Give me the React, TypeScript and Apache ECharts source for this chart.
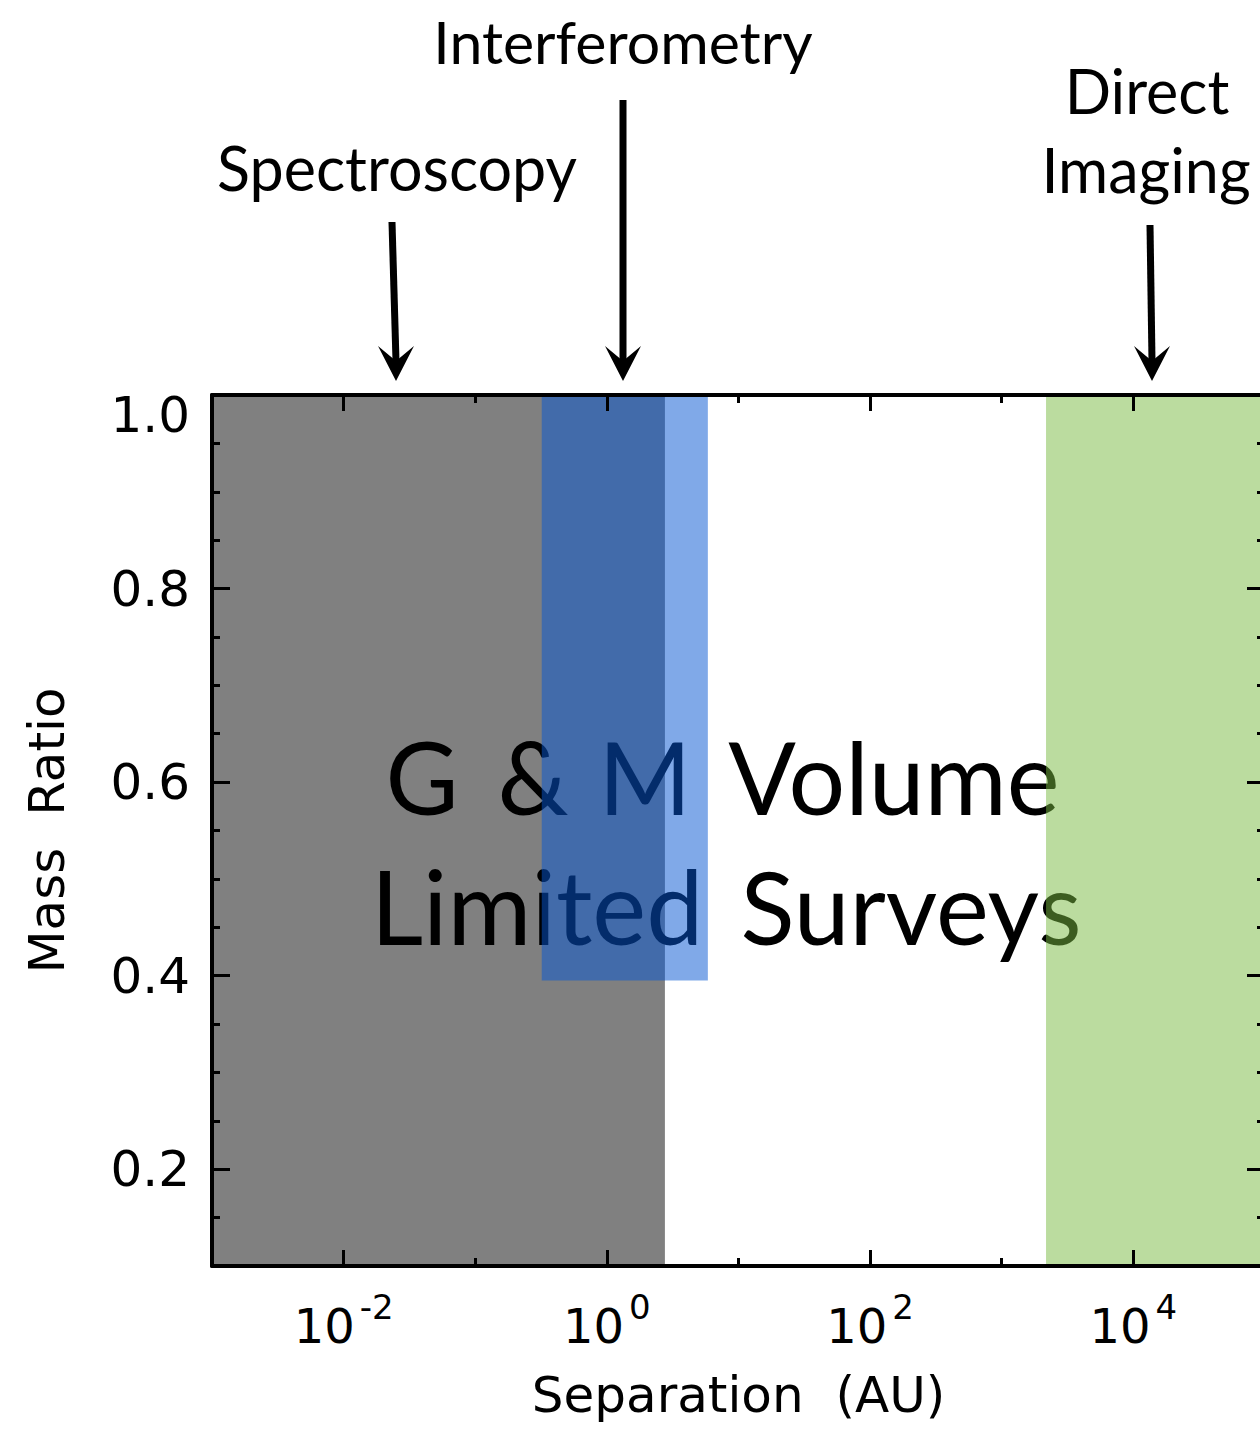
import React, { useEffect, useRef } from "react";
import * as echarts from "echarts";

// ---- data ----
const xRange = [0.001, 100000]; // Separation (AU)
const yRange = [0.1, 1.0]; // Mass ratio
const xMajorTicks = [0.01, 1, 100, 10000];
const xMinorTicks = [0.1, 10, 1000];
const yMajorTicks = [0.2, 0.4, 0.6, 0.8, 1.0];
const yMinorTicks = [0.15, 0.25, 0.3, 0.35, 0.45, 0.5, 0.55, 0.65, 0.7, 0.75, 0.85, 0.9, 0.95];

// [sepMin, sepMax, qMin, qMax]
const spectroscopyRegion = [[0.001, 2.76, 0.1, 1.0]];
const interferometryRegion = [[0.32, 5.85, 0.395, 1.0]];
const imagingRegion = [[2170, 100000, 0.1, 1.0]];

const AXIS_FONT = "DejaVu Sans";
const LABEL_FONT = "Lato";

function rectRenderer(color: string) {
  return (params: any, api: any) => {
    const p0 = api.coord([api.value(0), api.value(3)]);
    const p1 = api.coord([api.value(1), api.value(2)]);
    return {
      type: "rect",
      shape: { x: p0[0], y: p0[1], width: p1[0] - p0[0], height: p1[1] - p0[1] },
      style: { fill: color },
    };
  };
}

function textEl(text: string, x: number, baseline: number, size: number, z = 30) {
  return {
    type: "text",
    x,
    y: baseline - size * 0.37,
    z,
    style: {
      text,
      fill: "#000",
      fontSize: size,
      fontFamily: LABEL_FONT,
      align: "center",
      verticalAlign: "middle",
    },
  };
}

function arrow(x1: number, y1: number, x2: number, y2: number) {
  return [
    {
      type: "line",
      z: 30,
      shape: { x1, y1, x2: x2, y2: y2 - 20 },
      style: { stroke: "#000", lineWidth: 7 },
    },
    {
      type: "polygon",
      z: 30,
      shape: {
        points: [
          [x2, y2],
          [x2 - 18, y2 - 35],
          [x2, y2 - 20],
          [x2 + 18, y2 - 35],
        ],
      },
      style: { fill: "#000" },
    },
  ];
}

export default function App() {
  const ref = useRef<HTMLDivElement>(null);
  useEffect(() => {
    if (!ref.current) return;
    const chart = echarts.init(ref.current, undefined, { renderer: "svg" });
    const lineStyle = { color: "#000", width: 3 };
    const axisLineStyle = { color: "#000", width: 4 };
    const xBase: any = {
      type: "log",
      logBase: 10,
      min: xRange[0],
      max: xRange[1],
      splitLine: { show: false },
      z: 10,
    };
    const yBase: any = {
      type: "value",
      min: yRange[0],
      max: yRange[1],
      splitLine: { show: false },
      z: 10,
    };
    const option: any = {
      animation: false,
      backgroundColor: "#fff",
      grid: { left: 212, right: 5, top: 395, bottom: 163, containLabel: false },
      xAxis: [
        {
          ...xBase,
          position: "bottom",
          axisLine: { show: true, onZero: false, lineStyle: axisLineStyle },
          axisTick: { show: true, inside: true, length: 16, lineStyle, customValues: xMajorTicks },
          axisLabel: {
            show: true,
            customValues: xMajorTicks,
            margin: 24,
            formatter: (v: number) => {
              const e = Math.round(Math.log10(v));
              return `{b|10}{s|${e}}`;
            },
            rich: {
              b: { fontSize: 48, fontFamily: AXIS_FONT, color: "#000", lineHeight: 72 },
              s: { fontSize: 34, fontFamily: AXIS_FONT, color: "#000", verticalAlign: "top", lineHeight: 34, padding: [0, 0, 0, 5] },
            },
          },
          name: "Separation  (AU)",
          nameLocation: "middle",
          nameGap: 104,
          nameTextStyle: { fontSize: 50, fontFamily: AXIS_FONT, color: "#000" },
        },
        {
          ...xBase,
          position: "bottom",
          axisLine: { show: false, onZero: false },
          axisTick: { show: true, inside: true, length: 8, lineStyle, customValues: xMinorTicks },
          axisLabel: { show: false },
        },
        {
          ...xBase,
          position: "top",
          axisLine: { show: true, onZero: false, lineStyle: axisLineStyle },
          axisTick: { show: true, inside: true, length: 16, lineStyle, customValues: xMajorTicks },
          axisLabel: { show: false },
        },
        {
          ...xBase,
          position: "top",
          axisLine: { show: false, onZero: false },
          axisTick: { show: true, inside: true, length: 8, lineStyle, customValues: xMinorTicks },
          axisLabel: { show: false },
        },
      ],
      yAxis: [
        {
          ...yBase,
          position: "left",
          axisLine: { show: true, onZero: false, lineStyle: axisLineStyle },
          axisTick: { show: true, inside: true, length: 18, lineStyle, customValues: yMajorTicks },
          axisLabel: {
            show: true,
            customValues: yMajorTicks,
            margin: 22,
            fontSize: 50,
            fontFamily: AXIS_FONT,
            color: "#000",
            formatter: (v: number) => (Math.abs(v - 1) < 1e-9 ? `{t|${v.toFixed(1)}}` : `{n|${v.toFixed(1)}}`),
            rich: {
              n: { fontSize: 50, fontFamily: AXIS_FONT, color: "#000" },
              t: { fontSize: 50, fontFamily: AXIS_FONT, color: "#000", padding: [40, 0, 0, 0] },
            },
          },
          name: "Mass  Ratio",
          nameLocation: "middle",
          nameRotate: 90,
          nameGap: 140,
          nameTextStyle: { fontSize: 50, fontFamily: AXIS_FONT, color: "#000" },
        },
        {
          ...yBase,
          position: "left",
          axisLine: { show: false, onZero: false },
          axisTick: { show: true, inside: true, length: 8, lineStyle, customValues: yMinorTicks },
          axisLabel: { show: false },
        },
        {
          ...yBase,
          position: "right",
          axisLine: { show: true, onZero: false, lineStyle: axisLineStyle },
          axisTick: { show: true, inside: true, length: 18, lineStyle, customValues: yMajorTicks },
          axisLabel: { show: false },
        },
        {
          ...yBase,
          position: "right",
          axisLine: { show: false, onZero: false },
          axisTick: { show: true, inside: true, length: 8, lineStyle, customValues: yMinorTicks },
          axisLabel: { show: false },
        },
      ],
      series: [
        {
          type: "custom",
          name: "Spectroscopy",
          xAxisIndex: 0,
          yAxisIndex: 0,
          z: 1,
          clip: true,
          renderItem: rectRenderer("#808080"),
          encode: { x: [0, 1], y: [2, 3] },
          data: spectroscopyRegion,
        },
        {
          type: "custom",
          name: "Interferometry",
          xAxisIndex: 0,
          yAxisIndex: 0,
          z: 5,
          clip: true,
          renderItem: rectRenderer("rgba(6,86,210,0.51)"),
          encode: { x: [0, 1], y: [2, 3] },
          data: interferometryRegion,
        },
        {
          type: "custom",
          name: "Direct Imaging",
          xAxisIndex: 0,
          yAxisIndex: 0,
          z: 5,
          clip: true,
          renderItem: rectRenderer("rgba(120,186,64,0.5)"),
          encode: { x: [0, 1], y: [2, 3] },
          data: imagingRegion,
        },
      ],
      graphic: [
        textEl("Interferometry", 623, 63, 59),
        textEl("Spectroscopy", 397, 190, 61),
        textEl("Direct", 1147, 113, 61),
        textEl("Imaging", 1146, 192, 61),
        ...arrow(392, 222, 396, 381),
        ...arrow(623, 100, 623, 381),
        ...arrow(1150, 225, 1152, 381),
        // words placed beneath the translucent survey regions
        textEl("G", 422, 813, 100, 3),
        textEl("&", 533, 813, 100, 3),
        textEl("M", 645, 813, 100, 3),
        textEl("Volume", 894, 813, 100, 3),
        textEl("Limited", 537, 943, 102, 3),
        textEl("Surveys", 911, 943, 100, 3),
      ],
    };
    chart.setOption(option);
    return () => chart.dispose();
  }, []);
  return (
    <div style={{ position: "fixed", left: 0, top: 0, width: 1260, height: 1429, overflow: "hidden", background: "#fff" }}>
      <div ref={ref} style={{ width: 1270, height: 1429 }} />
    </div>
  );
}
